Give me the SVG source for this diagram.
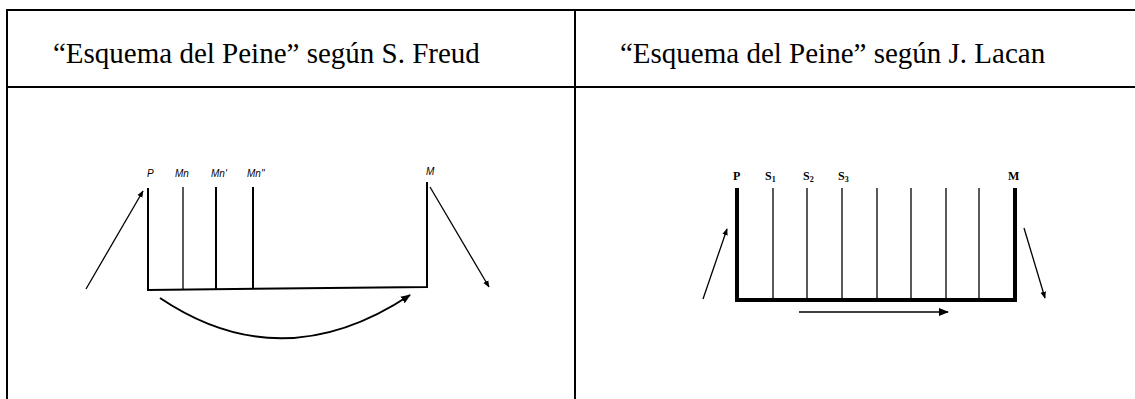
<svg xmlns="http://www.w3.org/2000/svg" width="1135" height="399" viewBox="0 0 1135 399">
<style>
.grid{stroke:#000;stroke-width:2;fill:none}
.hdr{font-family:"Liberation Serif",serif;font-size:29px;fill:#000}
.fl{font-family:"Liberation Sans",sans-serif;font-style:italic;font-size:10px;fill:#000}
.ll{font-family:"Liberation Serif",serif;font-weight:bold;font-size:12px;fill:#000}
.t1{stroke:#000;stroke-width:1.3;fill:none}
.t2{stroke:#000;stroke-width:2;fill:none}
.t4{stroke:#000;stroke-width:4;fill:none}
</style>
<defs>
<marker id="ah" viewBox="0 0 10 10" refX="9" refY="5" markerWidth="7" markerHeight="7" markerUnits="userSpaceOnUse" orient="auto">
<path d="M0,1 L10,5 L0,9 Z" fill="#000"/>
</marker>
<marker id="ahb" viewBox="0 0 10 10" refX="9" refY="5" markerWidth="10" markerHeight="10" markerUnits="userSpaceOnUse" orient="auto">
<path d="M0,1 L10,5 L0,9 Z" fill="#000"/>
</marker>
</defs>
<rect width="1135" height="399" fill="#fff"/>
<g id="table">
<line class="grid" x1="6" y1="10" x2="1135" y2="10"/>
<line class="grid" x1="6" y1="87" x2="1135" y2="87"/>
<line class="grid" x1="7" y1="9" x2="7" y2="399"/>
<line class="grid" x1="575" y1="9" x2="575" y2="399"/>
<text class="hdr" x="53" y="63">“Esquema del Peine” según S. Freud</text>
<text class="hdr" x="620" y="63">“Esquema del Peine” según J. Lacan</text>
</g>
<g id="freud">
<path class="t2" d="M148,188 L148,290 L427,287 L427,182"/>
<line class="t1" x1="183" y1="187" x2="183" y2="290"/>
<line class="t2" x1="216" y1="187" x2="216" y2="290"/>
<line class="t2" x1="253" y1="187" x2="253" y2="289"/>
<text class="fl" x="147" y="177">P</text>
<text class="fl" x="175" y="177">Mn</text>
<text class="fl" x="211" y="177">Mn'</text>
<text class="fl" x="247" y="177">Mn''</text>
<text class="fl" x="426" y="175">M</text>
</g>
<g id="lacan">
<path class="t4" d="M737,188 L737,300 L1015,300 L1015,188"/>
<line class="t1" x1="773" y1="188" x2="773" y2="298"/>
<line class="t1" x1="807" y1="188" x2="807" y2="298"/>
<line class="t1" x1="842" y1="188" x2="842" y2="298"/>
<line class="t1" x1="877" y1="188" x2="877" y2="298"/>
<line class="t1" x1="911" y1="188" x2="911" y2="298"/>
<line class="t1" x1="946" y1="188" x2="946" y2="298"/>
<line class="t1" x1="979" y1="188" x2="979" y2="298"/>
<text class="ll" x="733" y="180">P</text>
<text class="ll" x="765" y="180">S<tspan font-size="8" dy="2">1</tspan></text>
<text class="ll" x="803" y="180">S<tspan font-size="8" dy="2">2</tspan></text>
<text class="ll" x="838" y="180">S<tspan font-size="8" dy="2">3</tspan></text>
<text class="ll" x="1008" y="180">M</text>
</g>
<g id="connectors">
<line class="t1" x1="86" y1="289" x2="143" y2="191" marker-end="url(#ah)"/>
<line class="t1" x1="430" y1="187" x2="489" y2="287" marker-end="url(#ah)"/>
<path class="t2" d="M160,298 Q282,380 410,295" marker-end="url(#ahb)"/>
<line class="t1" x1="703" y1="299" x2="727" y2="229" marker-end="url(#ah)"/>
<line class="t1" x1="1024" y1="228" x2="1045" y2="298" marker-end="url(#ah)"/>
<line class="t1" x1="799" y1="312" x2="948" y2="312" marker-end="url(#ahb)"/>
</g>
</svg>
